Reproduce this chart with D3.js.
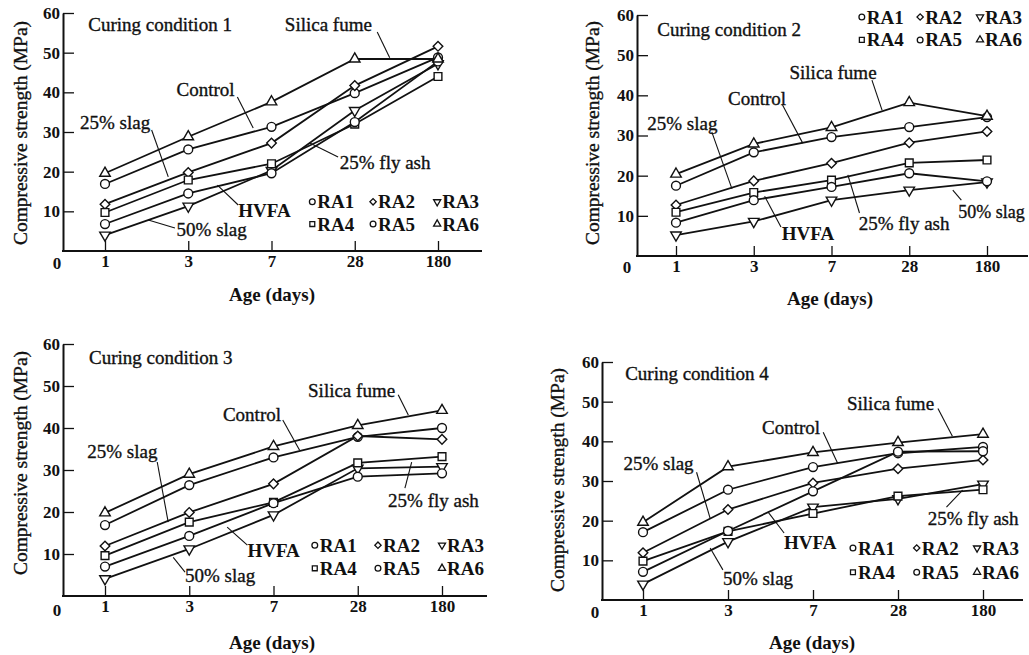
<!DOCTYPE html>
<html>
<head>
<meta charset="utf-8">
<script src="https://cdn.jsdelivr.net/npm/d3@7"></script>
<style>
body{margin:0;background:#fff;}
svg text{font-family:"Liberation Serif","Times New Roman",serif;fill:#111;}
svg text.heavy{stroke:#111;stroke-width:0.35px;}
</style>
</head>
<body>
<div id="chart"></div>
<script>
var w=1029, h=655;

//Ages on the x-axis (days), evenly spaced
var ages=["1","3","7","28","180"];
var yTicks=[10,20,30,40,50,60];
var mixes=["RA1","RA2","RA3","RA4","RA5","RA6"];
var titles=["Curing condition 1","Curing condition 2","Curing condition 3","Curing condition 4"];

//Compressive strength (MPa), one row per mix RA1..RA6
var cc1=[[16.9,25.6,31.3,39.8,48.8],
         [11.8,19.8,27.2,41.7,51.6],
         [4.0,11.3,20.3,35.4,47.2],
         [9.7,17.9,22.0,32.0,44.0],
         [6.8,14.5,19.6,32.5,47.8],
         [19.6,28.8,37.6,48.4,48.4]];
var cc2=[[17.5,25.8,29.6,32.1,34.6],
         [12.7,18.7,23.1,28.2,31.0],
         [5.2,8.6,13.9,16.4,18.4],
         [10.9,15.8,18.9,23.2,23.9],
         [8.3,13.9,17.2,20.6,18.6],
         [20.4,27.9,32.0,38.2,34.8]];
var cc3=[[16.9,26.4,33.0,37.9,40.0],
         [11.9,19.9,26.7,38.1,37.3],
         [4.1,11.2,19.3,30.4,30.8],
         [9.6,17.6,22.3,31.7,33.2],
         [7.0,14.3,22.1,28.4,29.2],
         [19.8,29.0,35.6,40.6,44.2]];
var cc4=[[17.1,27.8,33.5,37.0,38.6],
         [11.9,22.8,29.5,33.1,35.3],
         [4.0,14.7,23.4,25.5,29.2],
         [9.8,17.3,21.8,26.2,27.8],
         [7.1,17.4,27.4,37.4,37.5],
         [19.6,33.6,37.2,39.7,41.8]];
var conditions=[cc1,cc2,cc3,cc4];

//Marker shape per mix (symbol, rotation, size on lines, size in legend)
var shapes=[{s:d3.symbolCircle,r:0,z:62,lz:26},{s:d3.symbolSquare,r:45,z:46,lz:20},
            {s:d3.symbolTriangle,r:180,z:48,lz:22},{s:d3.symbolSquare,r:0,z:60,lz:24},
            {s:d3.symbolCircle,r:0,z:62,lz:26},{s:d3.symbolTriangle,r:0,z:48,lz:22}];

//Panel layout (pixels) and annotation positions (age index, MPa)
var panels=[
  {x0:105,x1:438,axL:63,axR:482,yB:251,yT:13,tickY:263,zeroX:57,xt:[272,294],yt:[20,133],
   title:[-0.20,57.0],
   legend:{cols:[2.49,3.22,3.99],rows:[12.4,6.8]},
   notes:[["Silica fume",2.16,57.2,[3.27,55.2,3.42,48.7]],
          ["Control",0.86,40.6,[1.59,38.8,1.78,31.0]],
          ["25% slag",-0.30,32.5,[0.56,30.5,0.76,18.7]],
          ["25% fly ash",2.82,22.4,[2.80,23.7,2.46,27.2]],
          ["HVFA",1.60,10.1,[1.60,11.6,1.35,16.6]],
          ["50% slag",0.86,5.3,[0.84,5.8,0.52,7.8]]]},
  {x0:676,x1:987,axL:637,axR:1028,yB:256,yT:15,tickY:267,zeroX:627,xt:[830,298],yt:[592,133],
   title:[-0.24,56.5],
   legend:{cols:[2.39,3.14,3.91],rows:[59.5,53.8]},
   notes:[["Silica fume",1.46,45.6,[2.52,43.8,2.65,36.3]],
          ["Control",0.67,39.3,[1.37,37.6,1.63,28.1]],
          ["25% slag",-0.37,33.1,[0.46,30.9,0.72,16.7]],
          ["HVFA",1.36,5.7,[1.35,7.2,1.14,14.9]],
          ["25% fly ash",2.35,8.2,[2.36,10.7,2.21,20.2]],
          ["50% slag",3.63,11.0,[3.67,13.9,3.56,16.4]]]},
  {x0:105,x1:442,axL:63,axR:487,yB:596,yT:344,tickY:610,zeroX:57,xt:[272,642],yt:[20,463],
   title:[-0.19,56.9],
   legend:{cols:[2.49,3.24,4.0],rows:[12.1,6.6]},
   notes:[["Silica fume",2.41,49.0,[3.48,47.9,3.60,43.1]],
          ["Control",1.40,43.3,[2.11,41.9,2.31,34.7]],
          ["25% slag",-0.21,34.3,[0.62,31.9,0.75,17.6]],
          ["HVFA",1.69,10.9,[1.69,12.1,1.45,16.4]],
          ["50% slag",0.95,4.9,[0.95,5.7,0.81,9.2]],
          ["25% fly ash",3.36,22.8,[3.56,25.7,3.64,31.9]]]},
  {x0:643,x1:983,axL:602,axR:1023,yB:600,yT:362,tickY:612,zeroX:595,xt:[812,642],yt:[557,480],
   title:[-0.21,57.1],
   legend:{cols:[2.47,3.22,3.93],rows:[13.1,7.0]},
   notes:[["Silica fume",2.40,49.6,[3.47,48.3,3.64,41.3]],
          ["Control",1.40,43.6,[2.12,42.3,2.29,34.5]],
          ["25% slag",-0.23,34.5,[0.63,32.2,0.79,20.6]],
          ["HVFA",1.66,14.4,[1.66,16.9,1.47,22.2]],
          ["50% slag",0.94,5.5,[0.94,7.6,0.79,13.1]],
          ["25% fly ash",3.35,20.6,[3.57,23.4,3.76,27.7]]]}
];

var svg=d3.select("#chart")
          .append("svg")
          .attr("width",w)
          .attr("height",h);

panels.forEach(function(p,k) {
    var data=conditions[k];
    var g=svg.append("g");

    var xScale=d3.scaleLinear().domain([0,ages.length-1]).range([p.x0,p.x1]);
    var yScale=d3.scaleLinear().domain([0,60]).range([p.yB,p.yT]);

    //Y axis with inward ticks
    var yAxis=g.append("g")
               .attr("transform","translate("+p.axL+",0)")
               .call(d3.axisLeft(yScale).tickValues(yTicks).tickSizeInner(-11).tickSizeOuter(0).tickPadding(3));
    yAxis.select(".domain").attr("stroke","#111").attr("stroke-width",2);
    yAxis.selectAll(".tick line").attr("stroke","#111").attr("stroke-width",1.3);
    yAxis.selectAll("text")
         .style("font-size","17px")
         .style("font-weight","bold")
         .attr("fill","#111");

    //X axis: ticks at each age, line runs past the last one
    var xAxis=g.append("g")
               .attr("transform","translate(0,"+p.yB+")")
               .call(d3.axisBottom(xScale).tickValues(d3.range(ages.length))
                       .tickFormat(function(i) {return ages[i];})
                       .tickSizeInner(-10).tickSizeOuter(0).tickPadding(4));
    xAxis.select(".domain").remove();
    xAxis.selectAll(".tick line").attr("stroke","#111").attr("stroke-width",1.3);
    xAxis.selectAll("text")
         .style("font-size","17px")
         .style("font-weight","bold")
         .attr("fill","#111");
    g.append("line")
     .attr("x1",p.axL-1).attr("x2",p.axR)
     .attr("y1",p.yB).attr("y2",p.yB)
     .attr("stroke","#111").attr("stroke-width",2);
    g.append("text")
     .attr("x",p.zeroX)
     .attr("y",p.tickY)
     .attr("text-anchor","middle")
     .attr("dominant-baseline","central")
     .style("font-size","17px")
     .style("font-weight","bold")
     .text("0");

    //Axis titles
    g.append("text")
     .attr("x",p.xt[0]).attr("y",p.xt[1])
     .attr("text-anchor","middle")
     .attr("dominant-baseline","central")
     .style("font-size","19px")
     .style("font-weight","bold")
     .text("Age (days)");
    g.append("text")
     .attr("class","heavy")
     .attr("transform","translate("+p.yt[0]+","+p.yt[1]+") rotate(-90)")
     .attr("text-anchor","middle")
     .attr("dominant-baseline","central")
     .style("font-size","19.5px")
     .text("Compressive strength (MPa)");

    //Panel title
    g.append("text")
     .attr("class","heavy")
     .attr("x",xScale(p.title[0])).attr("y",yScale(p.title[1]))
     .attr("dominant-baseline","central")
     .style("font-size","19px")
     .text(titles[k]);

    //Lines
    var line=d3.line()
               .x(function(d,i) {return xScale(i);})
               .y(function(d) {return yScale(d);});
    g.append("g")
     .selectAll("path")
     .data(data)
     .enter()
     .append("path")
     .attr("d",line)
     .attr("fill","none")
     .attr("stroke","#111")
     .attr("stroke-width",1.8);

    //Markers
    data.forEach(function(row,m) {
        g.append("g")
         .selectAll("path")
         .data(row)
         .enter()
         .append("path")
         .attr("d",d3.symbol().type(shapes[m].s).size(shapes[m].z))
         .attr("transform",function(d,i) {return "translate("+xScale(i)+","+yScale(d)+") rotate("+shapes[m].r+")";})
         .attr("fill","#fff")
         .attr("stroke","#111")
         .attr("stroke-width",1.4);
    });

    //Annotations with leader lines
    p.notes.forEach(function(n) {
        g.append("line")
         .attr("x1",xScale(n[3][0])).attr("y1",yScale(n[3][1]))
         .attr("x2",xScale(n[3][2])).attr("y2",yScale(n[3][3]))
         .attr("stroke","#111")
         .attr("stroke-width",1.1);
        g.append("text")
         .attr("class",n[0]=="HVFA"?null:"heavy")
         .attr("x",xScale(n[1])).attr("y",yScale(n[2]))
         .attr("dominant-baseline","central")
         .style("font-size",(k==1&&n[0]=="50% slag")?"18px":"19px")
         .style("font-weight",n[0]=="HVFA"?"bold":"normal")
         .text(n[0]);
    });

    //Legend, 2 rows x 3 columns
    mixes.forEach(function(name,m) {
        var cx=xScale(p.legend.cols[m%3]);
        var cy=yScale(p.legend.rows[Math.floor(m/3)]);
        g.append("path")
         .attr("d",d3.symbol().type(shapes[m].s).size(shapes[m].lz))
         .attr("transform","translate("+cx+","+cy+") rotate("+shapes[m].r+")")
         .attr("fill","#fff")
         .attr("stroke","#111")
         .attr("stroke-width",1.3);
        g.append("text")
         .attr("x",cx+5).attr("y",cy)
         .attr("dominant-baseline","central")
         .style("font-size","19px")
         .style("font-weight","bold")
         .text(name);
    });
});
</script>
</body>
</html>
